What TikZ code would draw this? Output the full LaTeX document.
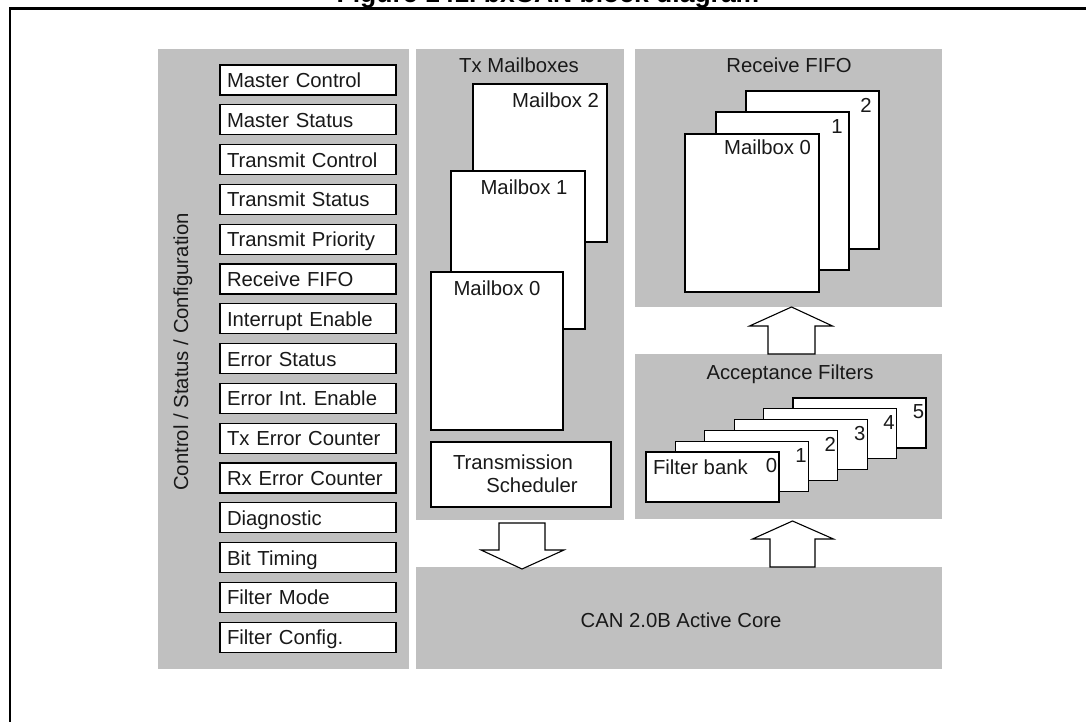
\documentclass[tikz,border=0pt]{standalone}
\usepackage{fontspec}
\setmainfont{Liberation Sans}
\usetikzlibrary{calc}
\definecolor{panelgray}{RGB}{192,192,192}
\definecolor{ink}{RGB}{25,25,25}
\frenchspacing
\begin{document}
\begin{tikzpicture}[x=1pt,y=-1pt,
  every node/.style={inner sep=0pt, outer sep=0pt, font=\fontsize{20.3}{24}\selectfont, text=ink},
  panel/.style={fill=panelgray, anchor=north west},
  reg/.style={draw=black, fill=white, line width=1.1pt, anchor=north west,
    minimum width=176pt, minimum height=30pt, text width=162pt, inner xsep=7pt,
    align=left, text height=15pt, text depth=0pt},
  card/.style={draw=black, fill=white, line width=1.1pt, anchor=north west},
  lbl/.style={anchor=base},
  barrow/.style={draw=black, fill=white, line width=1.1pt, line join=miter}
]
\useasboundingbox (0,0) rectangle (1086,722);
% title and frame
\node[font=\fontsize{26.5}{30}\selectfont\bfseries, anchor=base, text=black] (title) at (548,2.5) {Figure 141. bxCAN block diagram};
\draw[line width=2.5pt] (9,8.5) -- (1086,8.5);
\draw[line width=2.5pt] (10,7.25) -- (10,722);

% panels
\node[panel, minimum width=251pt, minimum height=620pt] (ctrl) at (158,49) {};
\node[panel, minimum width=208pt, minimum height=471pt] (txpanel) at (416,49) {};
\node[panel, minimum width=307pt, minimum height=258pt] (fifo) at (635,49) {};
\node[panel, minimum width=307pt, minimum height=165pt] (filters) at (635,354) {};
\node[panel, minimum width=526pt, minimum height=102pt] (core) at (416,567) {};

% control / status / configuration registers
\node[anchor=base, rotate=90] (ctrllbl) at (188,352) {Control / Status / Configuration};
\foreach \t [count=\i from 0] in {Master Control, Master Status, Transmit Control,
  Transmit Status, Transmit Priority, Receive FIFO, Interrupt Enable, Error Status,
  Error Int. Enable, Tx Error Counter, Rx Error Counter, Diagnostic, Bit Timing,
  Filter Mode, Filter Config.}
  \node[reg] (reg\i) at (220,{65+39.8*\i}) {\t};

% Tx mailboxes
\node[lbl] (txlbl) at (519,72.3) {Tx Mailboxes};
\node[card, minimum width=134pt, minimum height=158pt] (tm2) at (473,84) {};
\node[anchor=base east] (tm2l) at (599,107.3) {Mailbox 2};
\node[card, minimum width=134pt, minimum height=158pt] (tm1) at (451,171) {};
\node[lbl] (tm1l) at (524,194.3) {Mailbox 1};
\node[card, minimum width=132pt, minimum height=158pt] (tm0) at (431,272) {};
\node[lbl] (tm0l) at (497,295.3) {Mailbox 0};
\node[card, minimum width=180pt, minimum height=65pt] (sched) at (431,442) {};
\node[lbl] (sched1) at (513,469.3) {Transmission};
\node[lbl] (sched2) at (532,492.3) {Scheduler};

% Receive FIFO
\node[lbl] (fifolbl) at (789,72.3) {Receive FIFO};
\node[card, minimum width=133pt, minimum height=158pt] (rf2) at (746,91) {};
\node[lbl] (rf2l) at (866,112.3) {2};
\node[card, minimum width=133pt, minimum height=158pt] (rf1) at (716,112) {};
\node[lbl] (rf1l) at (837,133.3) {1};
\node[card, minimum width=134pt, minimum height=158pt] (rf0) at (685,134) {};
\node[anchor=base east] (rf0l) at (811,154.3) {Mailbox 0};

% Acceptance filters
\node[lbl] (filtlbl) at (790,379.3) {Acceptance Filters};
\foreach \k in {5,4,...,0} {
  \node[card, minimum width=133pt, minimum height=50pt] (fb\k) at ({646+29.4*\k},{452-10.8*\k}) {};
  \node[lbl] (fbn\k) at ([xshift=-7.5pt,yshift=-20.8pt]fb\k.north east) {\k};
}
\node[anchor=base west] (fbank) at (653,474.3) {Filter bank};

% CAN core
\node[lbl] (corelbl) at (681,627.3) {CAN 2.0B Active Core};

% block arrows
\coordinate (d1top) at ([xshift=2pt,yshift=-3pt]txpanel.south);
\coordinate (d1tip) at ([yshift=-2pt]d1top |- core.north);
\draw[barrow] ([xshift=-23pt]d1top) -- ([xshift=-23pt,yshift=19pt]d1tip)
  -- ([xshift=-41pt,yshift=19pt]d1tip) -- (d1tip)
  -- ([xshift=42pt,yshift=19pt]d1tip) -- ([xshift=23pt,yshift=19pt]d1tip)
  -- ([xshift=23pt]d1top) -- cycle;

\coordinate (u1base) at ([xshift=3pt]filters.north);
\coordinate (u1tip) at (u1base |- fifo.south);
\draw[barrow] ([xshift=-23.5pt]u1base) -- ([xshift=-23.5pt,yshift=-19pt]u1tip)
  -- ([xshift=-42pt,yshift=-19pt]u1tip) -- (u1tip)
  -- ([xshift=41pt,yshift=-19pt]u1tip) -- ([xshift=23.5pt,yshift=-19pt]u1tip)
  -- ([xshift=23.5pt]u1base) -- cycle;

\coordinate (u2base) at ([xshift=4pt]core.north -| filters.north);
\coordinate (u2tip) at ([yshift=-2pt]u2base |- filters.south);
\draw[barrow] ([xshift=-22.5pt]u2base) -- ([xshift=-22.5pt,yshift=-18pt]u2tip)
  -- ([xshift=-40pt,yshift=-18pt]u2tip) -- (u2tip)
  -- ([xshift=41pt,yshift=-18pt]u2tip) -- ([xshift=22.5pt,yshift=-18pt]u2tip)
  -- ([xshift=22.5pt]u2base) -- cycle;
\end{tikzpicture}
\end{document}
